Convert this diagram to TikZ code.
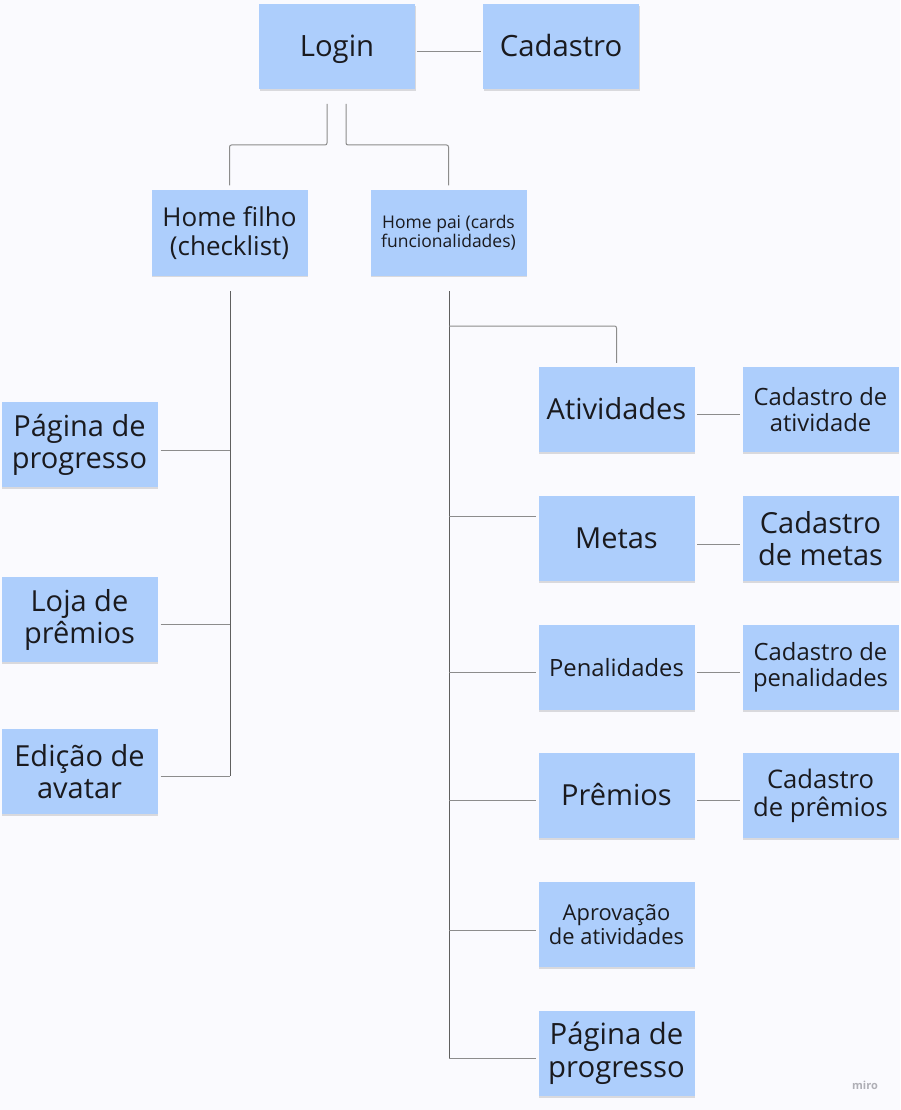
\documentclass[tikz,border=0pt]{standalone}
\usepackage{fontspec}
\setmainfont{Open Sans}
\usetikzlibrary{shadows}
\definecolor{bgc}{RGB}{250,250,254}
\definecolor{boxblue}{RGB}{173,206,252}
\definecolor{txt}{RGB}{26,26,30}
\definecolor{lnh}{RGB}{140,140,140}
\definecolor{lnv}{RGB}{95,95,95}
\definecolor{wm}{RGB}{175,175,182}
\newcommand\szXL{\fontsize{29.3}{32.5}\selectfont}
\newcommand\szL{\fontsize{29}{32}\selectfont}
\newcommand\szM{\fontsize{26}{28.7}\selectfont}
\newcommand\szMS{\fontsize{25.6}{28}\selectfont}
\newcommand\szS{\fontsize{23.8}{25.8}\selectfont}
\newcommand\szXS{\fontsize{21.9}{23.5}\selectfont}
\newcommand\szT{\fontsize{17.5}{19.4}\selectfont}
\tikzset{
  box/.style={fill=boxblue, minimum width=156pt, minimum height=85pt, inner sep=0pt,
    align=center, text=txt,
    drop shadow={shadow xshift=0.6pt, shadow yshift=-1.6pt, opacity=0.13, fill=black}},
  onebig/.style={text height=26.2pt, text depth=5.5pt},
  onesmall/.style={text height=21.5pt, text depth=4.5pt},
  conn/.style={draw=lnh, line width=1pt, rounded corners=2pt},
  trunk/.style={draw=lnv, line width=1pt, rounded corners=2pt},
}
\begin{document}
\begin{tikzpicture}[x=1pt,y=-1pt]
\fill[bgc] (0,0) rectangle (900,1110);
\useasboundingbox (0,0) rectangle (900,1110);

% top
\node[box, onebig, font=\szXL] (login) at (337,46.5) {Login};
\node[box, onebig, font=\szXL] (cadastro) at (561,46.5) {Cadastro};
\node[box, font=\szM] (homefilho) at (229.5,233) {Home filho\\(checklist)};
\node[box, font=\szT] (homepai) at (448.5,233) {Home pai (cards\\funcionalidades)};

% left column
\node[box, font=\szL] (pagprog) at (79.5,444.5) {Página de\\progresso};
\node[box, font=\szL] (loja) at (79.5,619.5) {Loja de\\prêmios};
\node[box, font=\szL] (avatar) at (79.5,771.5) {Edição de\\avatar};

% right column
\node[box, onebig, font=\szL] (ativ) at (616.5,409.5) {Atividades};
\node[box, font=\szS] (cadativ) at (820.5,409.5) {Cadastro de\\atividade};
\node[box, onebig, font=\szL] (metas) at (616.5,538.5) {Metas};
\node[box, font=\szL] (cadmetas) at (820.5,538.5) {Cadastro\\de metas};
\node[box, onesmall, font=\szS] (penal) at (616.5,667.5) {Penalidades};
\node[box, font=\szS] (cadpenal) at (820.5,667.5) {Cadastro de\\penalidades};
\node[box, onebig, font=\szL] (premios) at (616.5,795.5) {Prêmios};
\node[box, font=\szMS] (cadpremios) at (820.5,795.5) {Cadastro\\de prêmios};
\node[box, font=\szXS] (aprov) at (616.5,924.5) {Aprovação\\de atividades};
\node[box, font=\szXL] (pagprog2) at (616.5,1053.5) {Página de\\progresso};

% watermark
\node[text=wm, font=\bfseries\fontsize{11}{13}\selectfont, inner sep=0pt] (miro) at (865,1085) {miro};

% Login - Cadastro
\draw[conn] ([xshift=2pt,yshift=-5pt]login.east) -- ([xshift=-2pt,yshift=-5pt]cadastro.west);

% Login to homes
\coordinate (lA) at (327,104);
\coordinate (lB) at (346,104);
\draw[conn] (lA) -- (327,145) -| ([yshift=5pt]homefilho.north);
\draw[conn] (lB) -- (346,145) -| ([yshift=5pt]homepai.north);

% Home filho trunk
\coordinate (hf) at (230,291);
\draw[trunk] (hf) -- (230,776);
\draw[conn] ([xshift=3pt,yshift=-5.5pt]pagprog.east) -- (hf |- 0,450);
\draw[conn] ([xshift=3pt,yshift=-4.5pt]loja.east) -- (hf |- 0,624);
\draw[conn] ([xshift=3pt,yshift=-4.5pt]avatar.east) -- (hf |- 0,776);

% Home pai trunk
\coordinate (hp) at (449,291);
\draw[trunk] (hp) -- (449,1058);
\draw[conn] (hp |- 0,326) -| ([yshift=4pt]ativ.north);
\draw[conn] (hp |- 0,516) -- ([xshift=-2pt,yshift=22.5pt]metas.west);
\draw[conn] (hp |- 0,672) -- ([xshift=-2pt,yshift=-4.5pt]penal.west);
\draw[conn] (hp |- 0,800) -- ([xshift=-2pt,yshift=-4.5pt]premios.west);
\draw[conn] (hp |- 0,930) -- ([xshift=-2pt,yshift=-5.5pt]aprov.west);
\draw[conn] (hp |- 0,1058) -- ([xshift=-2pt,yshift=-4.5pt]pagprog2.west);

% sub-links
\draw[conn] ([xshift=2.5pt,yshift=-4.5pt]ativ.east) -- ([xshift=-2pt,yshift=-4.5pt]cadativ.west);
\draw[conn] ([xshift=2.5pt,yshift=-5.5pt]metas.east) -- ([xshift=-2pt,yshift=-5.5pt]cadmetas.west);
\draw[conn] ([xshift=2.5pt,yshift=-4.5pt]penal.east) -- ([xshift=-2pt,yshift=-4.5pt]cadpenal.west);
\draw[conn] ([xshift=2.5pt,yshift=-4.5pt]premios.east) -- ([xshift=-2pt,yshift=-4.5pt]cadpremios.west);
\end{tikzpicture}
\end{document}
